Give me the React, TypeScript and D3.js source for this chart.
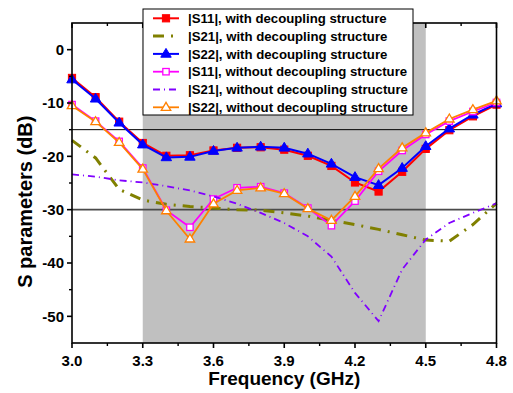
import React from "react";
import * as d3 from "d3";

// frequency points (GHz)
const freq = [3.0, 3.1, 3.2, 3.3, 3.4, 3.5, 3.6, 3.7, 3.8, 3.9, 4.0, 4.1, 4.2, 4.3, 4.4, 4.5, 4.6, 4.7, 4.8];

const s11With = [-5.3, -8.9, -13.5, -17.5, -19.9, -19.8, -18.9, -18.4, -18.3, -18.75, -19.9, -21.8, -24.9, -26.6, -22.9, -18.6, -15.1, -12.5, -10.3];
const s21With = [-17.0, -20.3, -26.2, -28.2, -29.0, -29.4, -29.7, -30.0, -30.1, -30.6, -31.2, -32.0, -32.8, -33.7, -34.7, -35.7, -35.9, -32.8, -28.8];
const s22With = [-5.6, -9.2, -13.7, -17.8, -20.2, -20.1, -19.0, -18.4, -18.2, -18.4, -19.5, -21.4, -23.9, -25.4, -22.2, -18.1, -14.8, -12.2, -10.1];
const s11Without = [-10.3, -13.4, -17.2, -22.2, -30.1, -33.3, -28.0, -25.9, -25.7, -26.9, -29.7, -33.0, -28.4, -22.8, -18.9, -15.9, -13.4, -11.6, -9.9];
const s21Without = [-23.4, -23.8, -24.5, -24.9, -25.6, -26.4, -27.5, -28.9, -30.6, -32.5, -35.0, -38.8, -45.6, -50.9, -41.2, -35.6, -32.5, -30.6, -28.8];
const s22Without = [-10.5, -13.5, -17.4, -22.4, -30.2, -35.5, -28.9, -26.4, -25.9, -27.0, -29.8, -32.0, -27.5, -22.3, -18.4, -15.6, -13.0, -11.25, -9.6];

const xTicks = [3.0, 3.3, 3.6, 3.9, 4.2, 4.5, 4.8];
const yTicks = [0, -10, -20, -30, -40, -50];
const band = [3.3, 4.5];
const refLines = [-15, -30];

type Series = {
  label: string;
  values: number[];
  color: string;
  width: number;
  dash?: string;
  marker?: "square" | "triangle";
  open?: boolean;
};

const series: Series[] = [
  { label: "|S11|, with decoupling structure", values: s11With, color: "#ff0000", width: 2, marker: "square" },
  { label: "|S21|, with decoupling structure", values: s21With, color: "#808000", width: 3, dash: "11,7,2,7" },
  { label: "|S22|, with decoupling structure", values: s22With, color: "#0000ff", width: 2, marker: "triangle" },
  { label: "|S11|, without decoupling structure", values: s11Without, color: "#ff00ff", width: 1.8, marker: "square", open: true },
  { label: "|S21|, without decoupling structure", values: s21Without, color: "#8000ff", width: 1.8, dash: "7,4,1,4" },
  { label: "|S22|, without decoupling structure", values: s22Without, color: "#ff8000", width: 1.8, marker: "triangle", open: true },
];

const W = 513;
const H = 393;
const font = "'Liberation Sans', Arial, sans-serif";

const Marker = ({ s, x, y }: { s: Series; x: number; y: number }) => {
  const fill = s.open ? "#fff" : s.color;
  if (s.marker === "square") {
    const r = s.open ? 3.2 : 3.6;
    return <rect x={x - r} y={y - r} width={2 * r} height={2 * r} fill={fill} stroke={s.color} strokeWidth={s.open ? 1.3 : 1} />;
  }
  if (s.marker === "triangle") {
    const r = s.open ? 5 : 5.5;
    const pts = [[x, y - r], [x - r * 0.95, y + r * 0.6], [x + r * 0.95, y + r * 0.6]];
    return <polygon points={pts.map((p) => p.join(",")).join(" ")} fill={fill} stroke={s.color} strokeWidth={s.open ? 1.3 : 1} />;
  }
  return null;
};

export default function App() {
  const x = d3.scaleLinear().domain([3.0, 4.8]).range([72, 496.5]);
  const y = d3.scaleLinear().domain([-55, 5]).range([343, 23]);
  const line = d3
    .line<number>()
    .x((_, i) => x(freq[i]))
    .y((d) => y(d));

  const minorX = d3.range(3.15, 4.8, 0.3);
  const minorY = d3.range(-45, 5, 10);

  const legX = 143;
  const legY = 9;
  const rowH = 17.8;

  return (
    <div style={{ position: "absolute", left: 0, top: 0 }}>
      <svg width={W} height={H} style={{ display: "block", fontFamily: font }}>
        <rect width={W} height={H} fill="#fff" />
        {/* shaded band */}
        <rect x={x(band[0])} y={y(5)} width={x(band[1]) - x(band[0])} height={y(-55) - y(5)} fill="#c0c0c0" />
        {/* reference lines */}
        {refLines.map((v, i) => (
          <line key={v} x1={x(3.0)} x2={x(4.8)} y1={y(v)} y2={y(v)} stroke={i === 0 ? "#000" : "#4a4a4a"} strokeWidth={i === 0 ? 1 : 1.6} />
        ))}
        {/* curves */}
        {series.map((s) => (
          <g key={s.label}>
            <path d={line(s.values) || ""} fill="none" stroke={s.color} strokeWidth={s.width} strokeDasharray={s.dash} />
            {s.marker && s.values.map((v, i) => <Marker key={i} s={s} x={x(freq[i])} y={y(v)} />)}
          </g>
        ))}
        {/* frame */}
        <rect x={x(3.0)} y={y(5)} width={x(4.8) - x(3.0)} height={y(-55) - y(5)} fill="none" stroke="#000" strokeWidth={1.6} />
        {/* x axis ticks */}
        {xTicks.map((t) => (
          <g key={t}>
            <line x1={x(t)} x2={x(t)} y1={y(-55)} y2={y(-55) + 5} stroke="#000" strokeWidth={1.6} />
            <line x1={x(t)} x2={x(t)} y1={y(5)} y2={y(5) + 5} stroke="#000" strokeWidth={1.6} />
            <text x={x(t)} y={366} textAnchor="middle" fontSize={15} fontWeight="bold">{t.toFixed(1)}</text>
          </g>
        ))}
        {minorX.map((t) => (
          <g key={t}>
            <line x1={x(t)} x2={x(t)} y1={y(-55)} y2={y(-55) + 3} stroke="#000" strokeWidth={1.4} />
            <line x1={x(t)} x2={x(t)} y1={y(5)} y2={y(5) + 3} stroke="#000" strokeWidth={1.4} />
          </g>
        ))}
        {/* y axis ticks */}
        {yTicks.map((t) => (
          <g key={t}>
            <line x1={x(3.0) - 5} x2={x(3.0)} y1={y(t)} y2={y(t)} stroke="#000" strokeWidth={1.6} />
            <text x={x(3.0) - 8} y={y(t)} dy="0.35em" textAnchor="end" fontSize={15} fontWeight="bold">{t}</text>
          </g>
        ))}
        {minorY.map((t) => (
          <line key={t} x1={x(3.0) - 3} x2={x(3.0)} y1={y(t)} y2={y(t)} stroke="#000" strokeWidth={1.4} />
        ))}
        {/* axis titles */}
        <text x={(x(3.0) + x(4.8)) / 2} y={385} textAnchor="middle" fontSize={19} fontWeight="bold">Frequency (GHz)</text>
        <text transform={`translate(32,${y(-28.5)}) rotate(-90)`} textAnchor="middle" fontSize={20} fontWeight="bold">S parameters (dB)</text>
        {/* legend */}
        <rect x={legX} y={legY} width={270} height={106} fill="#fff" stroke="#000" strokeWidth={1} />
        {series.map((s, i) => {
          const cy = legY + 9.3 + i * rowH;
          return (
            <g key={s.label}>
              <line x1={legX + 10} x2={legX + 36} y1={cy} y2={cy} stroke={s.color} strokeWidth={s.width} strokeDasharray={s.dash} />
              {s.marker && <Marker s={s} x={legX + 23} y={cy} />}
              <text x={legX + 45} y={cy} dy="0.35em" fontSize={13.2} fontWeight="bold">{s.label}</text>
            </g>
          );
        })}
      </svg>
    </div>
  );
}
